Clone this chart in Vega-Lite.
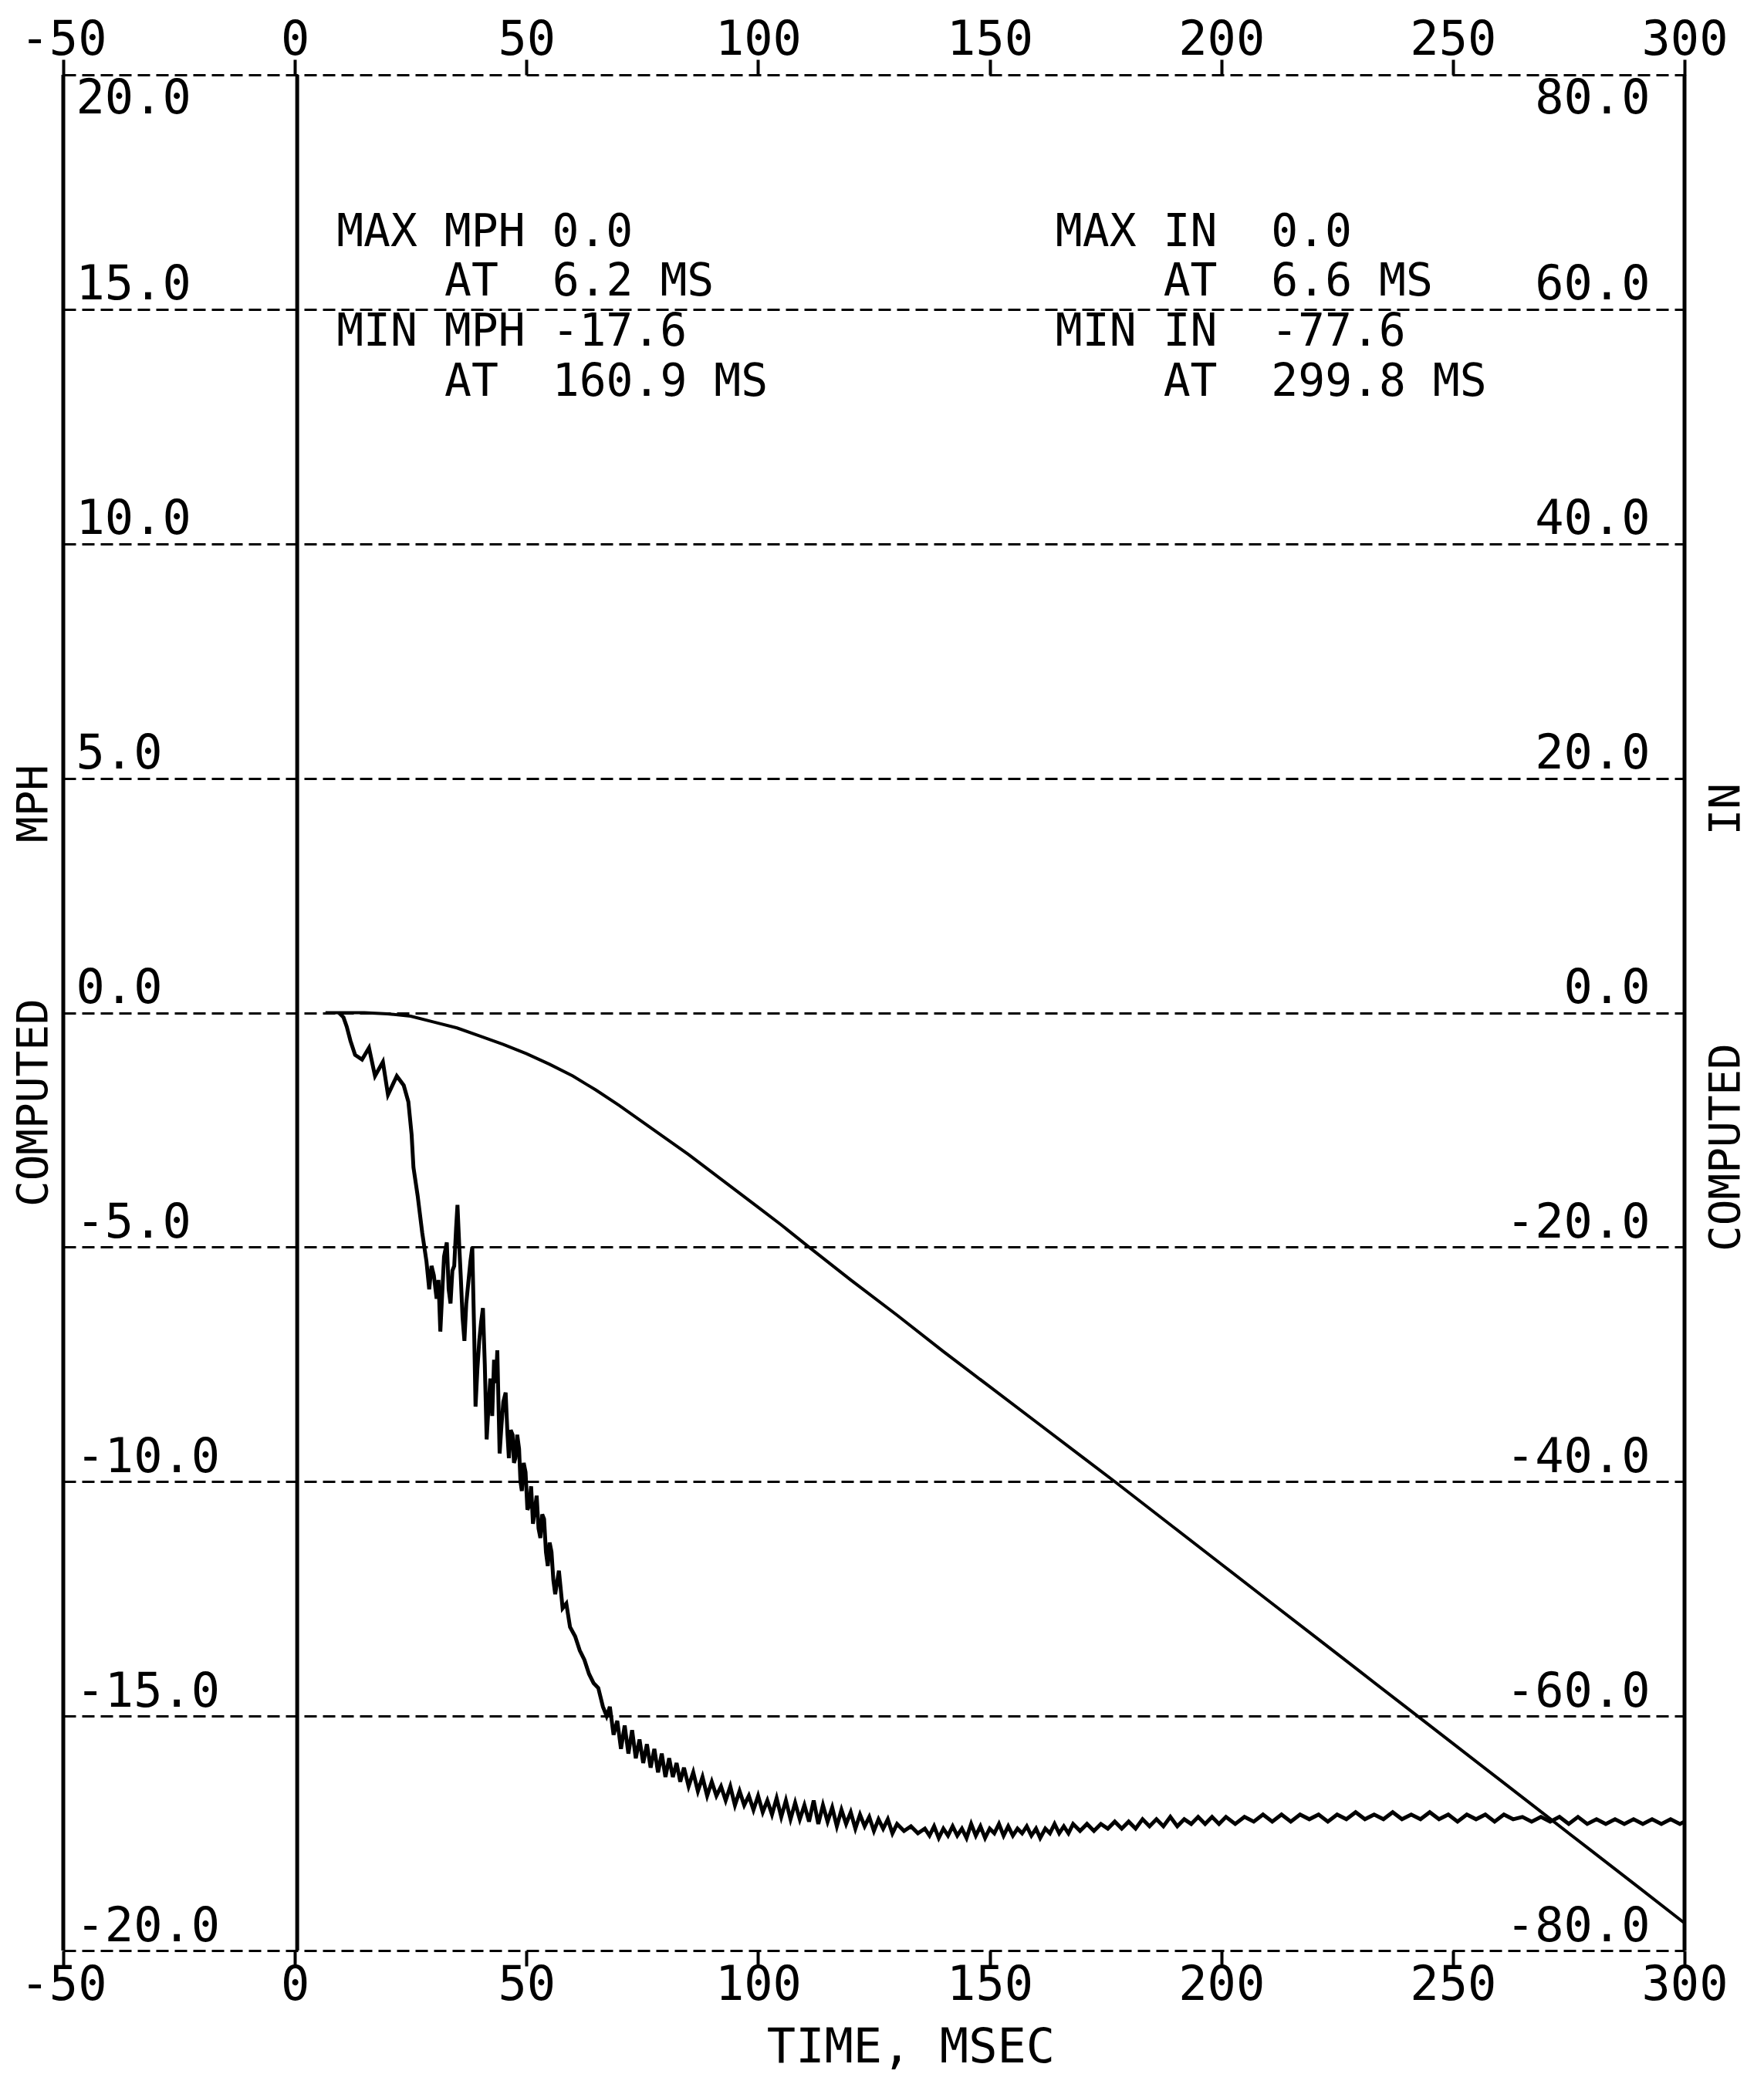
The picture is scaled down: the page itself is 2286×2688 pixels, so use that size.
{
  "$schema": "https://vega.github.io/schema/vega-lite/v6.json",
  "width": 2101,
  "height": 2431,
  "autosize": {"type": "none"},
  "padding": {"left": 82, "top": 97, "right": 103, "bottom": 160},
  "background": "white",
  "config": {
    "view": {"stroke": null},
    "font": "DejaVu Sans Mono",
    "axis": {"labelFont": "DejaVu Sans Mono", "titleFont": "DejaVu Sans Mono", "labelColor": "black", "titleColor": "black", "titleFontWeight": "normal", "labelFontWeight": "normal", "labelLimit": 0, "titleLimit": 0}
  },
  "datasets": {
    "frame": [{"t": -50}, {"t": 0.5}, {"t": 300}],
    "mph": [
      {"t":9.5,"v":0},{"t":10.5,"v":-0.1},{"t":11.2,"v":-0.3},{"t":12,"v":-0.6},{"t":13,"v":-0.9},{"t":14.5,"v":-1.0},{"t":16,"v":-0.75},{"t":17.3,"v":-1.35},{"t":19,"v":-1.05},{"t":20.1,"v":-1.75},{"t":22,"v":-1.35},{"t":23.5,"v":-1.55},{"t":24.5,"v":-1.9},{"t":25.2,"v":-2.6},{"t":25.6,"v":-3.3},{"t":26.5,"v":-3.9},{"t":27.5,"v":-4.7},
      {"t":28.4,"v":-5.3},{"t":29,"v":-5.9},{"t":29.5,"v":-5.4},{"t":30,"v":-5.6},{"t":30.6,"v":-6.1},{"t":31,"v":-5.7},{"t":31.4,"v":-6.8},{"t":31.8,"v":-6.0},{"t":32.2,"v":-5.2},{"t":32.8,"v":-4.9},{"t":33.2,"v":-5.9},{"t":33.6,"v":-6.2},{"t":34,"v":-5.5},{"t":34.4,"v":-5.4},{"t":34.8,"v":-4.6},{"t":35.1,"v":-4.1},{"t":35.5,"v":-5.0},{"t":35.8,"v":-5.6},{"t":36.2,"v":-6.5},{"t":36.6,"v":-7.0},{"t":37,"v":-6.2},{"t":37.4,"v":-5.8},{"t":37.9,"v":-5.3},{"t":38.3,"v":-5.0},{"t":38.7,"v":-6.8},{"t":39,"v":-8.4},{"t":39.4,"v":-7.6},{"t":39.8,"v":-7.0},{"t":40.2,"v":-6.6},{"t":40.6,"v":-6.3},{"t":41,"v":-7.5},{"t":41.4,"v":-9.1},{"t":41.8,"v":-8.4},{"t":42.2,"v":-7.8},{"t":42.6,"v":-8.6},{"t":43,"v":-7.4},{"t":43.4,"v":-7.9},{"t":43.7,"v":-7.2},{"t":44.2,"v":-9.4},{"t":44.6,"v":-8.8},{"t":45,"v":-8.3},{"t":45.5,"v":-8.1},{"t":45.9,"v":-9.0},{"t":46.2,"v":-9.5},{"t":46.6,"v":-8.9},{"t":47,"v":-9.0},{"t":47.3,"v":-9.6},{"t":47.6,"v":-9.5},{"t":48,"v":-9.0},{"t":48.4,"v":-9.3},{"t":48.7,"v":-10.0},{"t":49,"v":-10.2},{"t":49.4,"v":-9.6},{"t":49.8,"v":-9.8},{"t":50.2,"v":-10.6},{"t":50.6,"v":-10.5},{"t":51,"v":-10.1},{"t":51.4,"v":-10.9},{"t":51.8,"v":-10.6},{"t":52.2,"v":-10.3},{"t":52.6,"v":-11.0},{"t":53,"v":-11.2},{"t":53.4,"v":-10.7},{"t":53.8,"v":-10.8},{"t":54.2,"v":-11.5},{"t":54.6,"v":-11.8},{"t":55,"v":-11.3},{"t":55.4,"v":-11.5},{"t":55.8,"v":-12.1},{"t":56.2,"v":-12.4},
      {"t":57,"v":-11.9},{"t":57.8,"v":-12.7},{"t":58.6,"v":-12.6},{"t":59.4,"v":-13.1},{"t":60.5,"v":-13.3},{"t":61.5,"v":-13.6},{"t":62.5,"v":-13.8},{"t":63.5,"v":-14.1},{"t":64.5,"v":-14.3},{"t":65.5,"v":-14.4},{"t":66.5,"v":-14.8},{"t":67.3,"v":-15.0},{"t":68,"v":-14.8},{"t":68.8,"v":-15.4},{"t":69.6,"v":-15.1},{"t":70.4,"v":-15.7},{"t":71.2,"v":-15.2},{"t":72,"v":-15.8},{"t":72.8,"v":-15.3},{"t":73.6,"v":-15.9},{"t":74.4,"v":-15.5},{"t":75.2,"v":-16.0},{"t":76,"v":-15.6},{"t":76.8,"v":-16.1},{"t":77.6,"v":-15.7},{"t":78.4,"v":-16.2},{"t":79.2,"v":-15.8},{"t":80,"v":-16.3},{"t":80.8,"v":-15.9},{"t":81.6,"v":-16.3},{"t":82.4,"v":-16.0},{"t":83.2,"v":-16.4},{"t":84,"v":-16.1},{"t":85,"v":-16.5},{"t":86,"v":-16.2},{"t":87,"v":-16.6},{"t":88,"v":-16.3},{"t":89,"v":-16.7},{"t":90,"v":-16.4},{"t":91,"v":-16.7},{"t":92,"v":-16.5},{"t":93,"v":-16.8},{"t":94,"v":-16.5},{"t":95,"v":-16.9},{"t":96,"v":-16.6},{"t":97,"v":-16.9},{"t":98,"v":-16.7},{"t":99,"v":-17.0},{"t":100,"v":-16.7},{"t":101,"v":-17.05},{"t":102,"v":-16.8},{"t":103,"v":-17.1},{"t":104,"v":-16.75},{"t":105,"v":-17.15},{"t":106,"v":-16.8},{"t":107,"v":-17.2},{"t":108,"v":-16.85},{"t":109,"v":-17.2},{"t":110,"v":-16.9},{"t":111,"v":-17.25},{"t":112,"v":-16.8},{"t":113,"v":-17.3},{"t":114,"v":-16.9},{"t":115,"v":-17.25},{"t":116,"v":-16.95},{"t":117,"v":-17.35},{"t":118,"v":-17.0},{"t":119,"v":-17.3},{"t":120,"v":-17.05},{"t":121,"v":-17.4},{"t":122,"v":-17.1},{"t":123,"v":-17.35},{"t":124,"v":-17.15},{"t":125,"v":-17.45},{"t":126,"v":-17.2},{"t":127,"v":-17.4},{"t":128,"v":-17.2},{"t":129,"v":-17.5},{"t":130,"v":-17.3},{"t":131.5,"v":-17.45},{"t":133,"v":-17.35},{"t":134.5,"v":-17.5},{"t":136,"v":-17.4},{"t":137,"v":-17.55},{"t":138,"v":-17.35},{"t":139,"v":-17.6},{"t":140,"v":-17.4},{"t":141,"v":-17.55},{"t":142,"v":-17.35},{"t":143,"v":-17.55},{"t":144,"v":-17.4},{"t":145,"v":-17.6},{"t":146,"v":-17.3},{"t":147,"v":-17.55},{"t":148,"v":-17.35},{"t":149,"v":-17.6},{"t":150,"v":-17.4},{"t":151,"v":-17.5},{"t":152,"v":-17.3},{"t":153,"v":-17.55},{"t":154,"v":-17.35},{"t":155,"v":-17.55},{"t":156,"v":-17.4},{"t":157,"v":-17.5},{"t":158,"v":-17.35},{"t":159,"v":-17.55},{"t":160,"v":-17.4},{"t":160.9,"v":-17.6},{"t":162,"v":-17.4},{"t":163,"v":-17.5},{"t":164,"v":-17.3},{"t":165,"v":-17.5},{"t":166,"v":-17.35},{"t":167,"v":-17.5},{"t":168,"v":-17.3},{"t":169.5,"v":-17.45},{"t":171,"v":-17.3},{"t":172.5,"v":-17.45},{"t":174,"v":-17.3},{"t":175.5,"v":-17.4},{"t":177,"v":-17.25},{"t":178.5,"v":-17.4},{"t":180,"v":-17.25},{"t":181.5,"v":-17.4},{"t":183,"v":-17.2},{"t":184.5,"v":-17.35},{"t":186,"v":-17.2},{"t":187.5,"v":-17.35},{"t":189,"v":-17.15},{"t":190.5,"v":-17.35},{"t":192,"v":-17.2},{"t":193.5,"v":-17.3},{"t":195,"v":-17.15},{"t":196.5,"v":-17.3},{"t":198,"v":-17.15},{"t":199.5,"v":-17.3},{"t":201,"v":-17.15},{"t":203,"v":-17.3},{"t":205,"v":-17.15},{"t":207,"v":-17.25},{"t":209,"v":-17.1},{"t":211,"v":-17.25},{"t":213,"v":-17.1},{"t":215,"v":-17.25},{"t":217,"v":-17.1},{"t":219,"v":-17.2},{"t":221,"v":-17.1},{"t":223,"v":-17.25},{"t":225,"v":-17.1},{"t":227,"v":-17.2},{"t":229,"v":-17.05},{"t":231,"v":-17.2},{"t":233,"v":-17.1},{"t":235,"v":-17.2},{"t":237,"v":-17.05},{"t":239,"v":-17.2},{"t":241,"v":-17.1},{"t":243,"v":-17.2},{"t":245,"v":-17.05},{"t":247,"v":-17.2},{"t":249,"v":-17.1},{"t":251,"v":-17.25},{"t":253,"v":-17.1},{"t":255,"v":-17.2},{"t":257,"v":-17.1},{"t":259,"v":-17.25},{"t":261,"v":-17.1},{"t":263,"v":-17.2},{"t":265,"v":-17.15},{"t":267,"v":-17.25},{"t":269,"v":-17.15},{"t":271,"v":-17.25},{"t":273,"v":-17.15},{"t":275,"v":-17.3},{"t":277,"v":-17.15},{"t":279,"v":-17.3},{"t":281,"v":-17.2},{"t":283,"v":-17.3},{"t":285,"v":-17.2},{"t":287,"v":-17.3},{"t":289,"v":-17.2},{"t":291,"v":-17.3},{"t":293,"v":-17.2},{"t":295,"v":-17.3},{"t":297,"v":-17.2},{"t":299,"v":-17.3},{"t":300,"v":-17.25}
    ],
    "inch": [
      {"t":6.6,"d":0},{"t":15,"d":0},{"t":20,"d":-0.1},{"t":25,"d":-0.3},{"t":30,"d":-0.8},{"t":35,"d":-1.3},{"t":40,"d":-2.0},{"t":45,"d":-2.7},{"t":50,"d":-3.5},{"t":55,"d":-4.4},{"t":60,"d":-5.4},{"t":65,"d":-6.6},{"t":70,"d":-7.9},{"t":75,"d":-9.3},{"t":80,"d":-10.7},{"t":85,"d":-12.1},{"t":90,"d":-13.6},{"t":95,"d":-15.1},{"t":100,"d":-16.6},{"t":105,"d":-18.1},{"t":111,"d":-20.0},{"t":120,"d":-22.8},{"t":130,"d":-25.8},{"t":140,"d":-28.9},{"t":150,"d":-31.9},{"t":160,"d":-34.9},{"t":170,"d":-37.9},{"t":177,"d":-40.0},{"t":190,"d":-43.98},{"t":200,"d":-47.04},{"t":210,"d":-50.1},{"t":220,"d":-53.16},{"t":230,"d":-56.22},{"t":240,"d":-59.28},{"t":250,"d":-62.34},{"t":260,"d":-65.4},{"t":270,"d":-68.46},{"t":280,"d":-71.52},{"t":290,"d":-74.58},{"t":299.8,"d":-77.6}
    ],
    "notes": [
      {"t": 9, "v": 16.62, "label": "MAX\u00a0MPH\u00a00.0"},
      {"t": 32.3, "v": 15.58, "label": "AT\u00a0\u00a06.2\u00a0MS"},
      {"t": 9, "v": 14.5, "label": "MIN\u00a0MPH\u00a0-17.6"},
      {"t": 32.3, "v": 13.44, "label": "AT\u00a0\u00a0160.9\u00a0MS"},
      {"t": 164.2, "v": 16.62, "label": "MAX\u00a0IN\u00a0\u00a00.0"},
      {"t": 187.5, "v": 15.58, "label": "AT\u00a0\u00a06.6\u00a0MS"},
      {"t": 164.2, "v": 14.5, "label": "MIN\u00a0IN\u00a0\u00a0-77.6"},
      {"t": 187.5, "v": 13.44, "label": "AT\u00a0\u00a0299.8\u00a0MS"}
    ]
  },
  "layer": [
    {
      "data": {"name": "frame"},
      "mark": {"type": "rule", "strokeWidth": 5, "color": "black"},
      "encoding": {
        "x": {"field": "t", "type": "quantitative", "scale": {"domain": [-50, 300], "nice": false, "zero": false}, "axis": null}
      }
    },
    {
      "data": {"name": "mph"},
      "mark": {"type": "line", "strokeWidth": 5, "color": "black"},
      "encoding": {
        "x": {
          "field": "t", "type": "quantitative",
          "scale": {"domain": [-50, 300], "nice": false, "zero": false},
          "axis": {
            "orient": "bottom", "values": [-50, 0, 50, 100, 150, 200, 250, 300],
            "labelExpr": "datum.value < 0 ? '-' + abs(datum.value) : '' + datum.value",
            "labelFontSize": 62, "labelFlush": false, "labelOverlap": false, "labelPadding": -6,
            "ticks": true, "tickSize": 20, "tickWidth": 4, "tickColor": "black",
            "domain": false, "grid": false,
            "title": "TIME, MSEC", "titleFontSize": 62, "titleX": 1098, "titleY": 125,
            "titleAlign": "center", "titleBaseline": "middle"
          }
        },
        "y": {
          "field": "v", "type": "quantitative",
          "scale": {"domain": [-20, 20], "nice": false, "zero": false},
          "axis": {
            "orient": "left", "values": [-20, -15, -10, -5, 0, 5, 10, 15, 20],
            "labelExpr": "(datum.value < 0 ? '-' : '') + format(abs(datum.value), '.1f')",
            "labelFontSize": 62, "labelAlign": "left", "labelPadding": -16,
            "labelBaseline": {"condition": {"test": "datum.value == 20", "value": "top"}, "value": "bottom"},
            "labelFlush": false, "labelOverlap": false,
            "ticks": false, "tickSize": 0, "domain": false,
            "grid": true, "gridColor": "black", "gridWidth": 3, "gridDash": [16, 8], "gridOpacity": 1,
            "title": "COMPUTED\u00a0\u00a0\u00a0\u00a0\u00a0\u00a0MPH", "titleFontSize": 56, "titleAngle": 270,
            "titleX": -39, "titleY": 1180, "titleAlign": "center", "titleBaseline": "middle"
          }
        }
      }
    },
    {
      "data": {"name": "inch"},
      "mark": {"type": "line", "strokeWidth": 4, "color": "black"},
      "encoding": {
        "x": {
          "field": "t", "type": "quantitative",
          "scale": {"domain": [-50, 300], "nice": false, "zero": false},
          "axis": {
            "orient": "top", "values": [-50, 0, 50, 100, 150, 200, 250, 300],
            "labelExpr": "datum.value < 0 ? '-' + abs(datum.value) : '' + datum.value",
            "labelFontSize": 62, "labelFlush": false, "labelOverlap": false, "labelPadding": -6,
            "ticks": true, "tickSize": 20, "tickWidth": 4, "tickColor": "black",
            "domain": false, "grid": false, "title": null
          }
        },
        "y": {
          "field": "d", "type": "quantitative",
          "scale": {"domain": [-80, 80], "nice": false, "zero": false},
          "axis": {
            "orient": "right", "values": [-80, -60, -40, -20, 0, 20, 40, 60, 80],
            "labelExpr": "(datum.value < 0 ? '-' : '') + format(abs(datum.value), '.1f')",
            "labelFontSize": 62, "labelAlign": "right", "labelPadding": -45,
            "labelBaseline": {"condition": {"test": "datum.value == 80", "value": "top"}, "value": "bottom"},
            "labelFlush": false, "labelOverlap": false,
            "ticks": false, "tickSize": 0, "domain": false, "grid": false,
            "title": "COMPUTED\u00a0\u00a0\u00a0\u00a0\u00a0\u00a0\u00a0\u00a0IN", "titleFontSize": 56, "titleAngle": 270,
            "titleX": 53, "titleY": 1221, "titleAlign": "center", "titleBaseline": "middle"
          }
        }
      }
    },
    {
      "data": {"name": "notes"},
      "mark": {"type": "text", "align": "left", "baseline": "middle", "font": "DejaVu Sans Mono", "fontSize": 58, "color": "black"},
      "encoding": {
        "x": {"field": "t", "type": "quantitative", "scale": {"domain": [-50, 300], "nice": false, "zero": false}, "axis": null},
        "y": {"field": "v", "type": "quantitative", "scale": {"domain": [-20, 20], "nice": false, "zero": false}, "axis": null},
        "text": {"field": "label"}
      }
    }
  ],
  "resolve": {"scale": {"x": "independent", "y": "independent"}, "axis": {"x": "independent", "y": "independent"}}
}
